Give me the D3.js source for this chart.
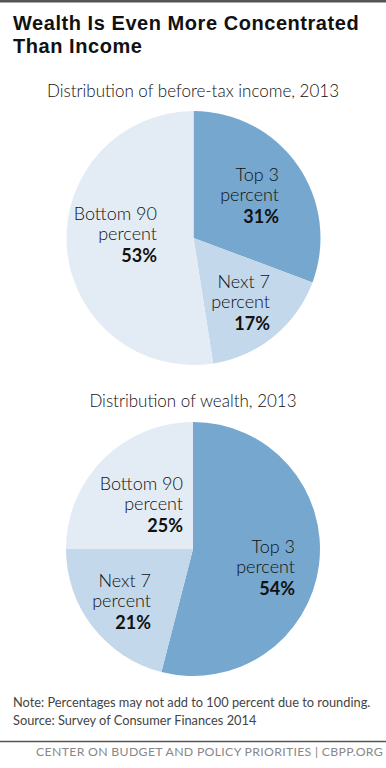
<!DOCTYPE html>
<html>
<head>
<meta charset="utf-8">
<script src="https://cdn.jsdelivr.net/npm/d3@7"></script>
<style>
  body { margin: 0; background: #fff; }
  svg { display: block; }
  text { font-family: Lato, "Open Sans", sans-serif; }
</style>
</head>
<body>
<div id="chart"></div>
<script>
// data
var groups = ['Top 3', 'Next 7', 'Bottom 90'];
var incomeShares = [31, 17, 53];
var wealthShares = [54, 21, 25];
var colors = ['#76a7cf', '#c3d8ea', '#e3ecf5'];

var W = 386, H = 768;

var svg = d3.select('#chart').append('svg')
  .attr('width', W)
  .attr('height', H);

// top rule
svg.append('rect')
  .attr('x', 0).attr('y', 0)
  .attr('width', W).attr('height', 2.5)
  .style('fill', '#555');

// title
var title = svg.append('text')
  .style('font-family', '"Liberation Sans", Arial, sans-serif')
  .style('font-weight', 'bold')
  .style('font-size', '20px')
  .style('letter-spacing', '0.55px')
  .style('fill', '#111');
title.append('tspan').attr('x', 13).attr('y', 30).text('Wealth Is Even More Concentrated');
title.append('tspan').attr('x', 13).attr('y', 53).text('Than Income');

var pie = d3.pie().sort(null).value(function(d) { return d; });
var r = 127;
var arc = d3.arc().innerRadius(0).outerRadius(r);

// label anchor positions for each pie (right aligned text, first baseline)
var incomeLabels = [[279, 181], [270, 288], [157, 220]];
var wealthLabels = [[295, 553], [151, 587], [183, 490]];

function drawPie(values, cx, cy, subtitle, subY, labelPos) {
  svg.append('text')
    .attr('x', W / 2)
    .attr('y', subY)
    .attr('text-anchor', 'middle')
    .style('font-size', '17px')
    .style('font-weight', 300)
    .style('fill', '#111')
    .text(subtitle);

  var g = svg.append('g')
    .attr('transform', 'translate(' + cx + ',' + cy + ')');

  g.selectAll('path')
    .data(pie(values))
    .enter().append('path')
    .attr('d', arc)
    .style('fill', function(d, i) { return colors[i]; });

  values.forEach(function(v, i) {
    var t = svg.append('text')
      .attr('text-anchor', 'end')
      .style('font-size', '18px')
      .style('font-weight', 300)
      .style('fill', '#111');
    var x = labelPos[i][0], y = labelPos[i][1];
    t.append('tspan').attr('x', x).attr('y', y).text(groups[i]);
    t.append('tspan').attr('x', x).attr('y', y + 20).text('percent');
    t.append('tspan').attr('x', x).attr('y', y + 42)
      .style('font-weight', 'bold')
      .text(v + '%');
  });
}

drawPie(incomeShares, 193.5, 238, 'Distribution of before-tax income, 2013', 97, incomeLabels);
drawPie(wealthShares, 193, 549, 'Distribution of wealth, 2013', 407, wealthLabels);

// notes
svg.append('text')
  .attr('x', 13).attr('y', 707)
  .style('font-size', '12.8px')
  .style('fill', '#444')
  .text('Note: Percentages may not add to 100 percent due to rounding.');
svg.append('text')
  .attr('x', 13).attr('y', 725)
  .style('font-size', '12.8px')
  .style('fill', '#444')
  .text('Source: Survey of Consumer Finances 2014');

svg.append('line')
  .attr('x1', 0).attr('x2', W)
  .attr('y1', 741.5).attr('y2', 741.5)
  .style('stroke', '#555')
  .style('stroke-width', 1.5);

svg.append('text')
  .attr('x', 383).attr('y', 756)
  .attr('text-anchor', 'end')
  .style('font-size', '12.3px')
  .style('letter-spacing', '0.3px')
  .style('fill', '#888')
  .text('CENTER ON BUDGET AND POLICY PRIORITIES | CBPP.ORG');
</script>
</body>
</html>
